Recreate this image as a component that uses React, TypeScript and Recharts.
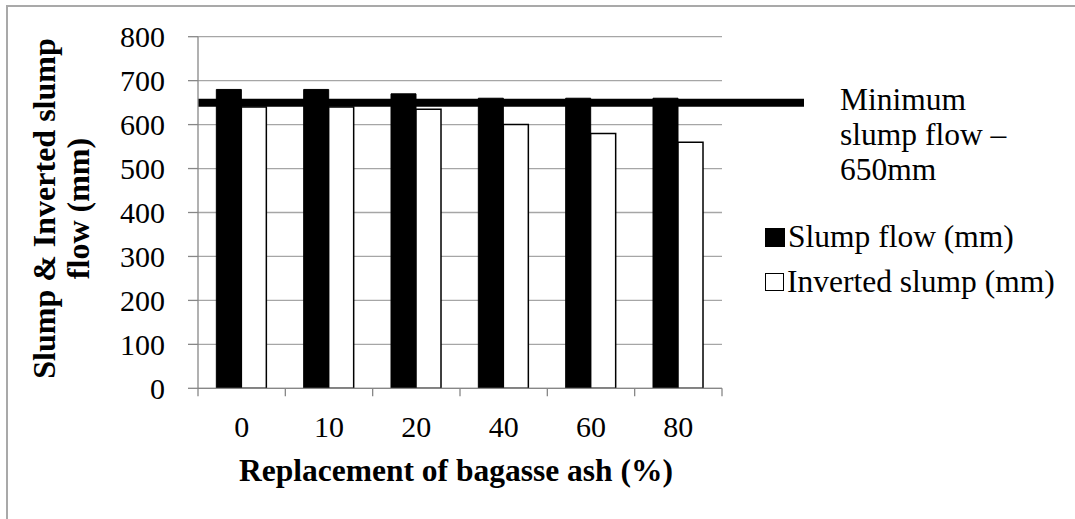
import React from 'react';
import { BarChart, Bar, XAxis, YAxis, CartesianGrid, ReferenceLine, Legend } from 'recharts';

const categories = ['0', '10', '20', '40', '60', '80'];
const slumpFlow = [680, 680, 670, 660, 660, 660];
const invertedSlump = [640, 640, 635, 600, 580, 560];
const yTicks = [0, 100, 200, 300, 400, 500, 600, 700, 800];
const minimumSlump = 650;
const minimumLabel = ['Minimum', 'slump flow –', '650mm'];
const seriesNames = ['Slump flow (mm)', 'Inverted slump (mm)'];
const xTitle = 'Replacement of bagasse ash (%)';
const yTitleLines = ['Slump & Inverted slump', 'flow (mm)'];

const data = categories.map((c, i) => ({ cat: c, slump: slumpFlow[i], inverted: invertedSlump[i] }));

const FONT = '"Liberation Serif", "Times New Roman", serif';
const GRID = '#a6a6a6';
const AXIS = '#878787';

const XTick = (props: any) => {
  const { x, y, payload, index, visibleTicksCount } = props;
  const off = payload.offset || 0;
  return (
    <g>
      <line x1={x - off} x2={x - off} y1={y} y2={y + 8} stroke={AXIS} strokeWidth={1.3} />
      {index === visibleTicksCount - 1 && (
        <line x1={x + off} x2={x + off} y1={y} y2={y + 8} stroke={AXIS} strokeWidth={1.3} />
      )}
      <text x={x} y={y + 49} textAnchor="middle" fontFamily={FONT} fontSize={30} fill="#000">
        {payload.value}
      </text>
    </g>
  );
};

const XTitle = (props: any) => {
  const vb = props.viewBox;
  return (
    <text x={vb.x + vb.width / 2 - 4} y={vb.y + 93} textAnchor="middle" fontFamily={FONT} fontSize={31.5} fontWeight="bold" fill="#000">
      {xTitle}
    </text>
  );
};

const YTitle = (props: any) => {
  const vb = props.viewBox;
  const cy = vb.y + vb.height / 2 - 4;
  const xs = [55, 89];
  return (
    <g>
      {yTitleLines.map((t, i) => (
        <text key={i} x={xs[i]} y={cy} transform={`rotate(-90, ${xs[i]}, ${cy})`} textAnchor="middle" fontFamily={FONT} fontSize={32} fontWeight="bold" fill="#000">
          {t}
        </text>
      ))}
    </g>
  );
};

const LegendContent = () => (
  <div style={{ position: 'relative', width: 1075, height: 519, fontFamily: FONT, fontSize: 31.5, color: '#000' }}>
    <div style={{ position: 'absolute', left: 840, top: 82, lineHeight: '35px', whiteSpace: 'nowrap' }}>
      {minimumLabel.map((l, i) => (
        <div key={i}>{l}</div>
      ))}
    </div>
    {seriesNames.map((n, i) => (
      <div key={n} style={{ position: 'absolute', left: 765, top: 219 + i * 45, height: 36, lineHeight: '36px', whiteSpace: 'nowrap', display: 'flex', alignItems: 'center' }}>
        <span style={{ display: 'inline-block', width: i === 0 ? 20 : 17, height: i === 0 ? 19 : 16, background: i === 0 ? '#000' : '#fff', border: i === 0 ? 'none' : '1.5px solid #000', marginRight: 3 }} />
        <span>{n}</span>
      </div>
    ))}
  </div>
);

export default function App() {
  return (
    <div style={{ position: 'absolute', left: 0, top: 0, width: 1075, height: 519, overflow: 'hidden', background: '#fff' }}>
      <div style={{ position: 'absolute', left: 6, top: 5, width: 1200, height: 700, borderLeft: '2px solid #a9a9a9', borderTop: '2px solid #a9a9a9' }} />
      <div style={{ position: 'absolute', left: 0, top: 0 }}>
        <BarChart
          width={1075}
          height={519}
          data={data}
          margin={{ top: 36.7, right: 353, left: 118, bottom: 70.7 }}
          barCategoryGap="21%"
          barGap={0}
        >
          <CartesianGrid vertical={false} stroke={GRID} strokeWidth={1.3} />
          <XAxis
            dataKey="cat"
            height={60}
            tickLine={false}
            tickSize={0}
            tickMargin={0}
            axisLine={{ stroke: AXIS, strokeWidth: 1.3 }}
            tick={<XTick />}
            interval={0}
            label={{ content: XTitle }}
          />
          <YAxis
            width={80}
            domain={[0, 800]}
            ticks={yTicks}
            interval={0}
            tickSize={10}
            tickMargin={23}
            axisLine={{ stroke: AXIS, strokeWidth: 1.3 }}
            tickLine={{ stroke: AXIS, strokeWidth: 1.3 }}
            tick={{ fontFamily: FONT, fontSize: 30, fill: '#000' }}
            label={{ content: YTitle }}
          />
          <Bar dataKey="slump" name={seriesNames[0]} fill="#000" stroke="#000" strokeWidth={1} isAnimationActive={false} />
          <Bar dataKey="inverted" name={seriesNames[1]} fill="#fff" stroke="#000" strokeWidth={1.5} isAnimationActive={false} />
          <ReferenceLine
            y={minimumSlump}
            shape={(p: any) => (
              <line x1={p.x1} y1={p.y1} x2={p.x2 + 82} y2={p.y2} stroke="#000" strokeWidth={8} />
            )}
          />
          <Legend
            layout="vertical"
            align="center"
            verticalAlign="middle"
            content={<LegendContent />}
            wrapperStyle={{ position: 'absolute', left: 0, top: 0, width: 1075, height: 519 }}
          />
        </BarChart>
      </div>
    </div>
  );
}
